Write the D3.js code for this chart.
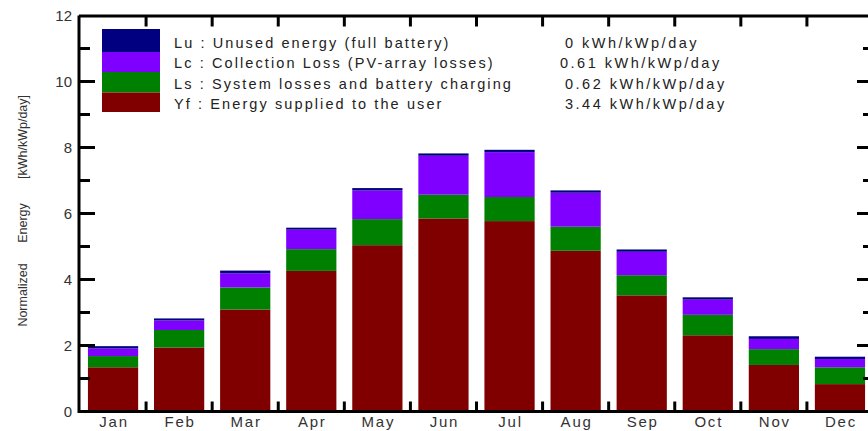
<!DOCTYPE html>
<html>
<head>
<meta charset="utf-8">
<script src="https://cdn.jsdelivr.net/npm/d3@7/dist/d3.min.js"></script>
<style>
  body { margin: 0; background: #fff; }
  svg { display: block; font-family: "Liberation Sans", Arial, sans-serif; }
</style>
</head>
<body>
<div id="chart"></div>
<script>
// months and stacked values (kWh/kWp/day)
const months = ["Jan", "Feb", "Mar", "Apr", "May", "Jun", "Jul", "Aug", "Sep", "Oct", "Nov", "Dec"];
const yf = [1.34, 1.94, 3.09, 4.26, 5.04, 5.85, 5.77, 4.87, 3.52, 2.31, 1.41, 0.83];
const ls = [0.34, 0.53, 0.67, 0.66, 0.79, 0.72, 0.73, 0.73, 0.61, 0.62, 0.48, 0.51];
const lc = [0.23, 0.29, 0.43, 0.59, 0.87, 1.18, 1.36, 1.03, 0.71, 0.46, 0.31, 0.25];
const lu = [0.07, 0.06, 0.08, 0.06, 0.07, 0.07, 0.07, 0.07, 0.07, 0.07, 0.08, 0.07];

const seriesKeys = ["yf", "ls", "lc", "lu"];
const seriesColors = {yf: "#800000", ls: "#008000", lc: "#8000ff", lu: "#000080"};

// legend rows, top to bottom
const legendKeys = ["lu", "lc", "ls", "yf"];
const legendLabels = [
  "Lu : Unused energy (full battery)",
  "Lc : Collection Loss (PV-array losses)",
  "Ls : System losses and battery charging",
  "Yf : Energy supplied to the user"
];
const legendValues = ["0 kWh/kWp/day", "0.61 kWh/kWp/day", "0.62 kWh/kWp/day", "3.44 kWh/kWp/day"];

const yTicks = [0, 2, 4, 6, 8, 10, 12];
const yMinorTicks = [1, 3, 5, 7, 9, 11];
const yLabelWords = ["Normalized", "Energy", "[kWh/kWp/day]"];

const W = 868, H = 431;
const box = {left: 80, right: 873, top: 15.5, bottom: 411.5};

const svg = d3.select("#chart")
  .append("svg")
    .attr("width", W)
    .attr("height", H);

const data = months.map((m, i) => ({month: m, yf: yf[i], ls: ls[i], lc: lc[i], lu: lu[i]}));

const x = d3.scaleBand()
  .domain(months)
  .range([box.left, box.right])
  .paddingInner(0.24)
  .paddingOuter(0.12);

const y = d3.scaleLinear()
  .domain([0, 12])
  .range([box.bottom, box.top]);

// stacked bars
const stack = d3.stack().keys(seriesKeys)(data);
svg.append("g")
  .selectAll("g")
  .data(stack)
  .join("g")
    .attr("fill", d => seriesColors[d.key])
  .selectAll("rect")
  .data(d => d)
  .join("rect")
    .attr("x", d => x(d.data.month))
    .attr("width", x.bandwidth())
    .attr("y", d => y(d[1]))
    .attr("height", d => y(d[0]) - y(d[1]));

// frame
const frame = svg.append("g")
  .attr("stroke", "#000")
  .attr("stroke-width", 3);
frame.append("line").attr("x1", box.left - 1).attr("x2", W + 10).attr("y1", box.top + 0.5).attr("y2", box.top + 0.5);
frame.append("line").attr("x1", box.left - 1).attr("x2", W + 10).attr("y1", box.bottom).attr("y2", box.bottom);
frame.append("line").attr("x1", box.left - 1).attr("x2", box.left - 1).attr("y1", box.top).attr("y2", box.bottom + 1.5);
frame.append("line").attr("x1", box.right).attr("x2", box.right).attr("y1", box.top).attr("y2", box.bottom);

// ticks between months, top and bottom
const step = x.step();
const between = months.slice(1).map(m => x(m) - (step - x.bandwidth()) / 2);
frame.selectAll(".tb").data(between).join("line")
  .attr("x1", d => d).attr("x2", d => d)
  .attr("y1", box.bottom).attr("y2", box.bottom - 10);
frame.selectAll(".tt").data(between).join("line")
  .attr("x1", d => d).attr("x2", d => d)
  .attr("y1", box.top).attr("y2", box.top + 11);

// y ticks on both sides
frame.selectAll(".yl").data(yTicks.slice(1, -1)).join("line")
  .attr("x1", box.left - 1).attr("x2", box.left + 15)
  .attr("y1", d => y(d)).attr("y2", d => y(d));
frame.selectAll(".ylm").data(yMinorTicks).join("line")
  .attr("x1", box.left - 1).attr("x2", box.left + 10)
  .attr("y1", d => y(d)).attr("y2", d => y(d));
frame.selectAll(".yr").data(yTicks.slice(1, -1)).join("line")
  .attr("x1", box.right).attr("x2", box.right - 16)
  .attr("y1", d => y(d)).attr("y2", d => y(d));
frame.selectAll(".yrm").data(yMinorTicks).join("line")
  .attr("x1", box.right).attr("x2", box.right - 10)
  .attr("y1", d => y(d)).attr("y2", d => y(d));

// y tick labels
svg.append("g")
  .selectAll("text")
  .data(yTicks)
  .join("text")
    .attr("x", 72)
    .attr("y", d => y(d))
    .attr("dy", "0.36em")
    .attr("text-anchor", "end")
    .attr("font-size", 15)
    .attr("fill", "#333")
    .text(d => d);

// month labels (letter-spaced like the original)
svg.append("g")
  .selectAll("text")
  .data(months)
  .join("text")
    .attr("x", d => x(d) + x.bandwidth() / 2 + 1)
    .attr("y", 421.5)
    .attr("dy", "0.36em")
    .attr("text-anchor", "middle")
    .attr("font-size", 15)
    .attr("letter-spacing", 1.8)
    .attr("fill", "#333")
    .text(d => d);

// rotated y label, three spaced words
const yLabelPos = [295, 223, 137];
svg.append("g")
  .selectAll("text")
  .data(yLabelWords)
  .join("text")
    .attr("transform", (d, i) => `translate(22,${yLabelPos[i]}) rotate(-90)`)
    .attr("dy", "0.36em")
    .attr("text-anchor", "middle")
    .attr("font-size", 12.5)
    .attr("fill", "#333")
    .text(d => d);

// legend
const rowY = [29, 52, 72, 92.5, 112];
const legend = svg.append("g");
legend.selectAll("rect")
  .data(legendKeys)
  .join("rect")
    .attr("x", 102)
    .attr("y", (d, i) => rowY[i])
    .attr("width", 58)
    .attr("height", (d, i) => rowY[i + 1] - rowY[i])
    .attr("fill", d => seriesColors[d]);
legend.selectAll(".lab")
  .data(legendLabels)
  .join("text")
    .attr("class", "lab")
    .attr("x", 174)
    .attr("y", (d, i) => 43 + i * 20.2)
    .attr("dy", "0.36em")
    .attr("font-size", 14.5)
    .attr("letter-spacing", 2.1)
    .attr("fill", "#222")
    .text(d => d);
legend.selectAll(".val")
  .data(legendValues)
  .join("text")
    .attr("class", "val")
    .attr("x", (d, i) => i === 1 ? 560 : 565)
    .attr("y", (d, i) => 43 + i * 20.2)
    .attr("dy", "0.36em")
    .attr("font-size", 14.5)
    .attr("letter-spacing", 2.5)
    .attr("fill", "#222")
    .text(d => d);
</script>
</body>
</html>
